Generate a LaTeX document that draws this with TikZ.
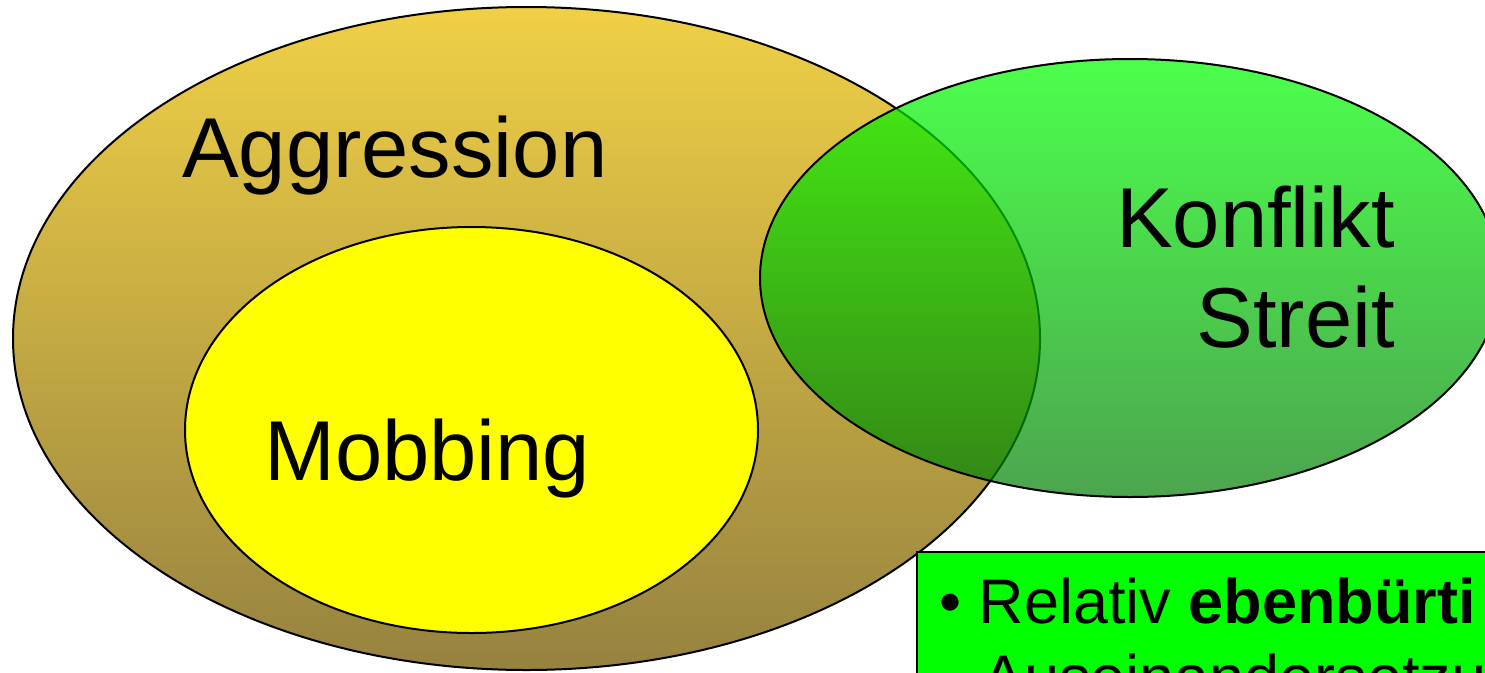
\documentclass[tikz,border=0pt]{standalone}
\usepackage{fontspec}
\setmainfont{Liberation Sans}
\definecolor{goldtop}{RGB}{240,208,70}
\definecolor{goldbot}{RGB}{150,130,64}
\definecolor{gtop}{RGB}{0,255,0}
\definecolor{gbot}{RGB}{0,126,4}
\definecolor{boxgreen}{RGB}{0,255,0}
\definecolor{mobyellow}{RGB}{255,255,0}
\tikzset{
  outline/.style={draw=black, line width=2pt},
  bigtext/.style={inner sep=0pt, font=\fontsize{85}{100}\selectfont},
  boxtext/.style={inner sep=0pt, font=\fontsize{63}{76}\selectfont},
}
\begin{document}
\begin{tikzpicture}[x=1pt, y=-1pt]
\useasboundingbox (0,0) rectangle (1485,672);
\clip (0,0) rectangle (1485,672);
% Aggression ellipse
\shade[top color=goldtop, bottom color=goldbot] (526.5,338.5) ellipse [x radius=513.5, y radius=331.5];
\draw[outline] (526.5,338.5) ellipse [x radius=513.5, y radius=331.5];
% Mobbing ellipse
\draw[outline, fill=mobyellow] (471.5,430) ellipse [x radius=286.5, y radius=203];
% Konflikt ellipse
\shade[top color=gtop, bottom color=gbot, fill opacity=0.7, opacity=0.7] (1130,278) ellipse [x radius=370, y radius=219];
\draw[outline] (1130,278) ellipse [x radius=370, y radius=219];
% labels
\node[bigtext, anchor=base west] (aggr) at (182,177) {Aggression};
\node[bigtext, anchor=base west] (mob) at (264,480) {Mobbing};
\node[bigtext, anchor=base east] (konf) at (1395,247) {Konflikt};
\node[bigtext, anchor=base east] (streit) at (1395,347) {Streit};
% box
\draw[line width=2pt, fill=boxgreen] (917,552) rectangle (1520,720);
\node[boxtext, anchor=base west] (l1) at (939,623) {• Relativ \textbf{ebenbürti}};
\node[boxtext, anchor=base west] (l2) at (982,699) {Auseinandersetzu};
\end{tikzpicture}
\end{document}
